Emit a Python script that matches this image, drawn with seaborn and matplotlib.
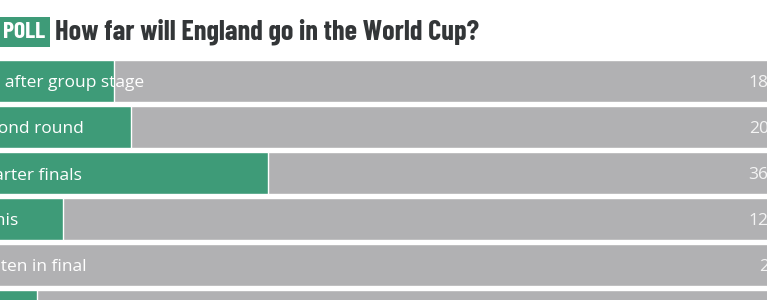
import matplotlib
matplotlib.use("Agg")
import matplotlib.pyplot as plt
import seaborn as sns
import pandas as pd

categories = ["Out after group stage", "Second round", "Quarter finals", "Semis", "Beaten in final", "Win"]
values = [18, 20, 36, 12, 2, 9]
totals = [100, 100, 100, 100, 100, 100]
title = "How far will England go in the World Cup?"
badge = "POLL"

GREEN = "#3e9b78"
GREY = "#b1b1b3"
DARK = "#333638"
COND = ["Barlow Condensed", "Fira Sans Extra Condensed", "Roboto Condensed", "Asap Condensed", "DejaVu Sans"]

sns.set_theme(style="white")
plt.rcParams["font.family"] = ["Open Sans", "DejaVu Sans"]

df = pd.DataFrame({"category": categories, "value": values, "total": totals})

fig = plt.figure(figsize=(7.67, 3.0), dpi=100)
ax = fig.add_axes([0, 0, 1, 1])

sns.barplot(data=df, y="category", x="total", color=GREY, width=0.9,
            saturation=1, orient="h", ax=ax)
sns.barplot(data=df, y="category", x="value", color=GREEN, width=0.9,
            saturation=1, orient="h", ax=ax)

ax.set_xlim(4.613, 94.42)
ax.set_ylim(4.761, -1.761)
ax.axis("off")

for i, (c, v) in enumerate(zip(categories, values)):
    ax.text(1.15, i + 0.05, c, color="white", fontsize=12.5, va="center", ha="left")
    ax.text(96.3, i + 0.05, f"{v}%", color="#f4f4f4", fontsize=12.5, va="center", ha="right")

fig.text(0.004, 0.893, badge, color="white", fontsize=17, fontweight="bold",
         family=COND, va="center", ha="left",
         bbox=dict(boxstyle="square,pad=0.2", facecolor=GREEN, edgecolor="none"))
fig.text(0.072, 0.895, title, color=DARK, fontsize=20.4, fontweight="bold",
         family=COND, va="center", ha="left")

fig.savefig("out.png", dpi=100)
